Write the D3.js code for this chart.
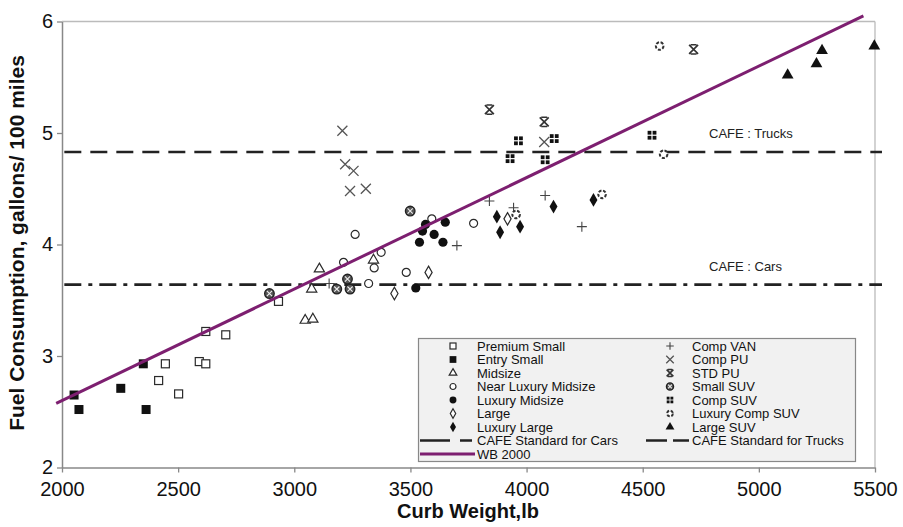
<!DOCTYPE html>
<html><head><meta charset="utf-8">
<script src="https://cdn.jsdelivr.net/npm/d3@7"></script>
<style>body{margin:0;background:#fff;} svg{display:block;font-family:"Liberation Sans",Arial,sans-serif;}</style>
</head><body>
<svg id="c" width="903" height="527"></svg>
<script>
// ---- data ----
const xTicks = [2000, 2500, 3000, 3500, 4000, 4500, 5000, 5500];
const yTicks = [2, 3, 4, 5, 6];
const premiumSmall = [[2416,2.78],[2445,2.93],[2502,2.66],[2591,2.95],[2619,2.93],[2619,3.22],[2705,3.19],[2932,3.49]];
const entrySmall = [[2052,2.65],[2073,2.52],[2253,2.71],[2350,2.93],[2362,2.52]];
const midsize = [[3047,3.32],[3080,3.33],[3075,3.60],[3108,3.78],[3341,3.86]];
const nearLuxuryMidsize = [[3212,3.84],[3262,4.09],[3320,3.65],[3344,3.79],[3374,3.93],[3482,3.75],[3592,4.23],[3772,4.19]];
const luxuryMidsize = [[3523,3.61],[3539,4.02],[3552,4.12],[3565,4.18],[3602,4.09],[3640,4.02],[3650,4.20]];
const large = [[3431,3.56],[3578,3.75],[3918,4.23]];
const luxuryLarge = [[3872,4.25],[3886,4.11],[3972,4.16],[4116,4.34],[4288,4.40]];
const compVan = [[3150,3.65],[3700,3.99],[3840,4.39],[3944,4.33],[4080,4.44],[4238,4.16]];
const compPU = [[3207,5.02],[3219,4.72],[3255,4.66],[3240,4.48],[3308,4.50],[4076,4.92]];
const stdPU = [[3840,5.21],[4076,5.10],[4719,5.75]];
const smallSUV = [[2893,3.56],[3183,3.60],[3229,3.69],[3240,3.60],[3499,4.30]];
const compSUV = [[3929,4.77],[3965,4.93],[4080,4.76],[4119,4.95],[4540,4.98]];
const luxuryCompSUV = [[3955,4.27],[4325,4.45],[4573,5.78],[4590,4.81]];
const largeSUV = [[5124,5.52],[5248,5.62],[5272,5.74],[5497,5.78]];
const wbX = [1975, 5450];
const wbY = [2.575, 6.05];
const cafeCars = 3.64;
const cafeTrucks = 4.83;
const cafeSpan = [2010, 5530];

const seriesNames = ["Premium Small","Entry Small","Midsize","Near Luxury Midsize","Luxury Midsize","Large","Luxury Large",
  "Comp VAN","Comp PU","STD PU","Small SUV","Comp SUV","Luxury Comp SUV","Large SUV"];
const seriesData = [premiumSmall, entrySmall, midsize, nearLuxuryMidsize, luxuryMidsize, large, luxuryLarge,
  compVan, compPU, stdPU, smallSUV, compSUV, luxuryCompSUV, largeSUV];
const seriesMarker = ["sqOpen","sqFill","triOpen","circOpen","circFill","diaOpen","diaFill",
  "plus","cross","stdpu","smallsuv","compsuv","luxsuv","triFill"];

// ---- drawing ----
const svg = d3.select("#c");
const x = d3.scaleLinear().domain([2000, 5500]).range([62, 875]);
const y = d3.scaleLinear().domain([2, 6]).range([467.5, 21.5]);
const ink = "#2a2a2a";

function drawMarker(g, type, s) {
  const sym = (t, size) => d3.symbol().type(t).size(size * s * s)();
  switch (type) {
    case "sqOpen": g.append("rect").attr("x",-4*s).attr("y",-4*s).attr("width",8*s).attr("height",8*s).attr("fill","#fff").attr("stroke",ink).attr("stroke-width",1.2); break;
    case "sqFill": g.append("rect").attr("x",-4.5*s).attr("y",-4.5*s).attr("width",9*s).attr("height",9*s).attr("fill","#111"); break;
    case "triOpen": g.append("path").attr("d", sym(d3.symbolTriangle, 45)).attr("fill","#fff").attr("stroke",ink).attr("stroke-width",1.2); break;
    case "triFill": g.append("path").attr("d", sym(d3.symbolTriangle, 60)).attr("fill","#111"); break;
    case "circOpen": g.append("circle").attr("r",4*s).attr("fill","#fff").attr("stroke",ink).attr("stroke-width",1.2); break;
    case "circFill": g.append("circle").attr("r",4.6*s).attr("fill","#111"); break;
    case "diaOpen": g.append("path").attr("d", sym(d3.symbolDiamond, 45)).attr("fill","#fff").attr("stroke",ink).attr("stroke-width",1.2); break;
    case "diaFill": g.append("path").attr("d", sym(d3.symbolDiamond, 55)).attr("fill","#111"); break;
    case "plus": g.append("path").attr("d", `M${-5*s},0H${5*s}M0,${-5*s}V${5*s}`).attr("stroke","#444").attr("stroke-width",1.1); break;
    case "cross": g.append("path").attr("d", `M${-5*s},${-5*s}L${5*s},${5*s}M${-5*s},${5*s}L${5*s},${-5*s}`).attr("stroke","#555").attr("stroke-width",1.3); break;
    case "stdpu":
      g.append("path").attr("d", `M${-4.5*s},${-4.5*s}L${4.5*s},${4.5*s}M${-4.5*s},${4.5*s}L${4.5*s},${-4.5*s}M${-3*s},${-4.6*s}H${3*s}M${-3*s},${4.6*s}H${3*s}`).attr("stroke","#333").attr("stroke-width",1.6); break;
    case "smallsuv":
      g.append("circle").attr("r",4.8*s).attr("fill","#555").attr("stroke","#222").attr("stroke-width",1.3);
      g.append("path").attr("d", `M${-2.6*s},${-2.6*s}L${2.6*s},${2.6*s}M${-2.6*s},${2.6*s}L${2.6*s},${-2.6*s}`).attr("stroke","#eee").attr("stroke-width",1.1); break;
    case "compsuv":
      [[-1,-1],[1,-1],[-1,1],[1,1]].forEach(([a,b]) => g.append("rect").attr("x", (a<0?-4.4:0.6)*s).attr("y",(b<0?-4.4:0.6)*s).attr("width",3.8*s).attr("height",3.8*s).attr("fill","#111"));
      break;
    case "luxsuv": g.append("circle").attr("r",3.8*s).attr("fill","#fff").attr("stroke","#333").attr("stroke-width",2).attr("stroke-dasharray","3,1.6"); break;
  }
}

// axes frame
svg.append("line").attr("x1",62).attr("x2",875).attr("y1",21.5).attr("y2",21.5).attr("stroke","#bbb").attr("stroke-width",1.3);
svg.append("line").attr("x1",875).attr("x2",875).attr("y1",21.5).attr("y2",467.5).attr("stroke","#bbb").attr("stroke-width",1.3);

const xAxis = svg.append("g").attr("transform","translate(0,467.5)")
  .call(d3.axisBottom(x).tickValues(xTicks).tickSize(5).tickSizeOuter(0).tickPadding(9).tickFormat(d3.format("d")));
const yAxis = svg.append("g").attr("transform","translate(62,0)")
  .call(d3.axisLeft(y).tickValues(yTicks).tickSize(5).tickSizeOuter(0).tickPadding(4).tickFormat(d3.format("d")));
[xAxis, yAxis].forEach(a => {
  a.select(".domain").attr("stroke","#888").attr("stroke-width",1.5);
  a.selectAll(".tick line").attr("stroke","#888").attr("stroke-width",1.3);
  a.selectAll(".tick text").attr("fill","#111").attr("font-size",20).attr("font-family","Liberation Sans, Arial, sans-serif");
});

// CAFE lines
svg.append("line").attr("x1",x(cafeSpan[0])).attr("x2",x(cafeSpan[1])).attr("y1",y(cafeTrucks)).attr("y2",y(cafeTrucks))
  .attr("stroke","#222").attr("stroke-width",2.6).attr("stroke-dasharray","17,9");
svg.append("line").attr("x1",x(cafeSpan[0])).attr("x2",x(cafeSpan[1])).attr("y1",y(cafeCars)).attr("y2",y(cafeCars))
  .attr("stroke","#222").attr("stroke-width",2.6).attr("stroke-dasharray","17,7,4,7");

svg.append("text").attr("x",709).attr("y",y(cafeTrucks)-14).attr("font-size",13).attr("fill","#222").text("CAFE : Trucks");
svg.append("text").attr("x",709).attr("y",y(cafeCars)-14).attr("font-size",13).attr("fill","#222").text("CAFE : Cars");

// markers
seriesData.forEach((data, i) => {
  data.forEach(d => {
    const g = svg.append("g").attr("transform", `translate(${x(d[0])},${y(d[1])})`);
    drawMarker(g, seriesMarker[i], 1);
  });
});

// WB 2000 line
svg.append("line").attr("x1",x(wbX[0])).attr("x2",x(wbX[1])).attr("y1",y(wbY[0])).attr("y2",y(wbY[1]))
  .attr("stroke","#7d1f70").attr("stroke-width",3);

// legend
const lg = svg.append("g");
lg.append("rect").attr("x",418.5).attr("y",338.5).attr("width",437).attr("height",123).attr("fill","#f1f1f1").attr("stroke","#888").attr("stroke-width",1.2);
const rowY = i => 346 + i * 13.5;
seriesNames.forEach((name, i) => {
  const col = i < 7 ? 0 : 1, r = i % 7;
  const sx = col === 0 ? 453 : 670, tx = col === 0 ? 477 : 692;
  const g = lg.append("g").attr("transform", `translate(${sx},${rowY(r)})`);
  drawMarker(g, seriesMarker[i], 0.75);
  lg.append("text").attr("x",tx).attr("y",rowY(r)).attr("dy","0.36em").attr("font-size",13).attr("fill","#111").text(name);
});
lg.append("path").attr("d",`M420,${rowY(7)}H450M460,${rowY(7)}H472`).attr("stroke","#222").attr("stroke-width",2.6);
lg.append("text").attr("x",477).attr("y",rowY(7)).attr("dy","0.36em").attr("font-size",13).attr("fill","#111").text("CAFE Standard for Cars");
lg.append("path").attr("d",`M646,${rowY(7)}H667M673,${rowY(7)}H689`).attr("stroke","#222").attr("stroke-width",2.6);
lg.append("text").attr("x",692).attr("y",rowY(7)).attr("dy","0.36em").attr("font-size",13).attr("fill","#111").text("CAFE Standard for Trucks");
lg.append("path").attr("d",`M420,${rowY(8)}H475`).attr("stroke","#7d1f70").attr("stroke-width",3);
lg.append("text").attr("x",477).attr("y",rowY(8)).attr("dy","0.36em").attr("font-size",13).attr("fill","#111").text("WB 2000");

// titles
svg.append("text").attr("x",468).attr("y",518).attr("text-anchor","middle").attr("font-size",20).attr("font-weight","bold").attr("fill","#111").text("Curb Weight,lb");
svg.append("text").attr("transform","translate(24,243) rotate(-90)").attr("text-anchor","middle").attr("font-size",21).attr("font-weight","bold").attr("fill","#111").text("Fuel Consumption, gallons/ 100 miles");
</script>
</body></html>
